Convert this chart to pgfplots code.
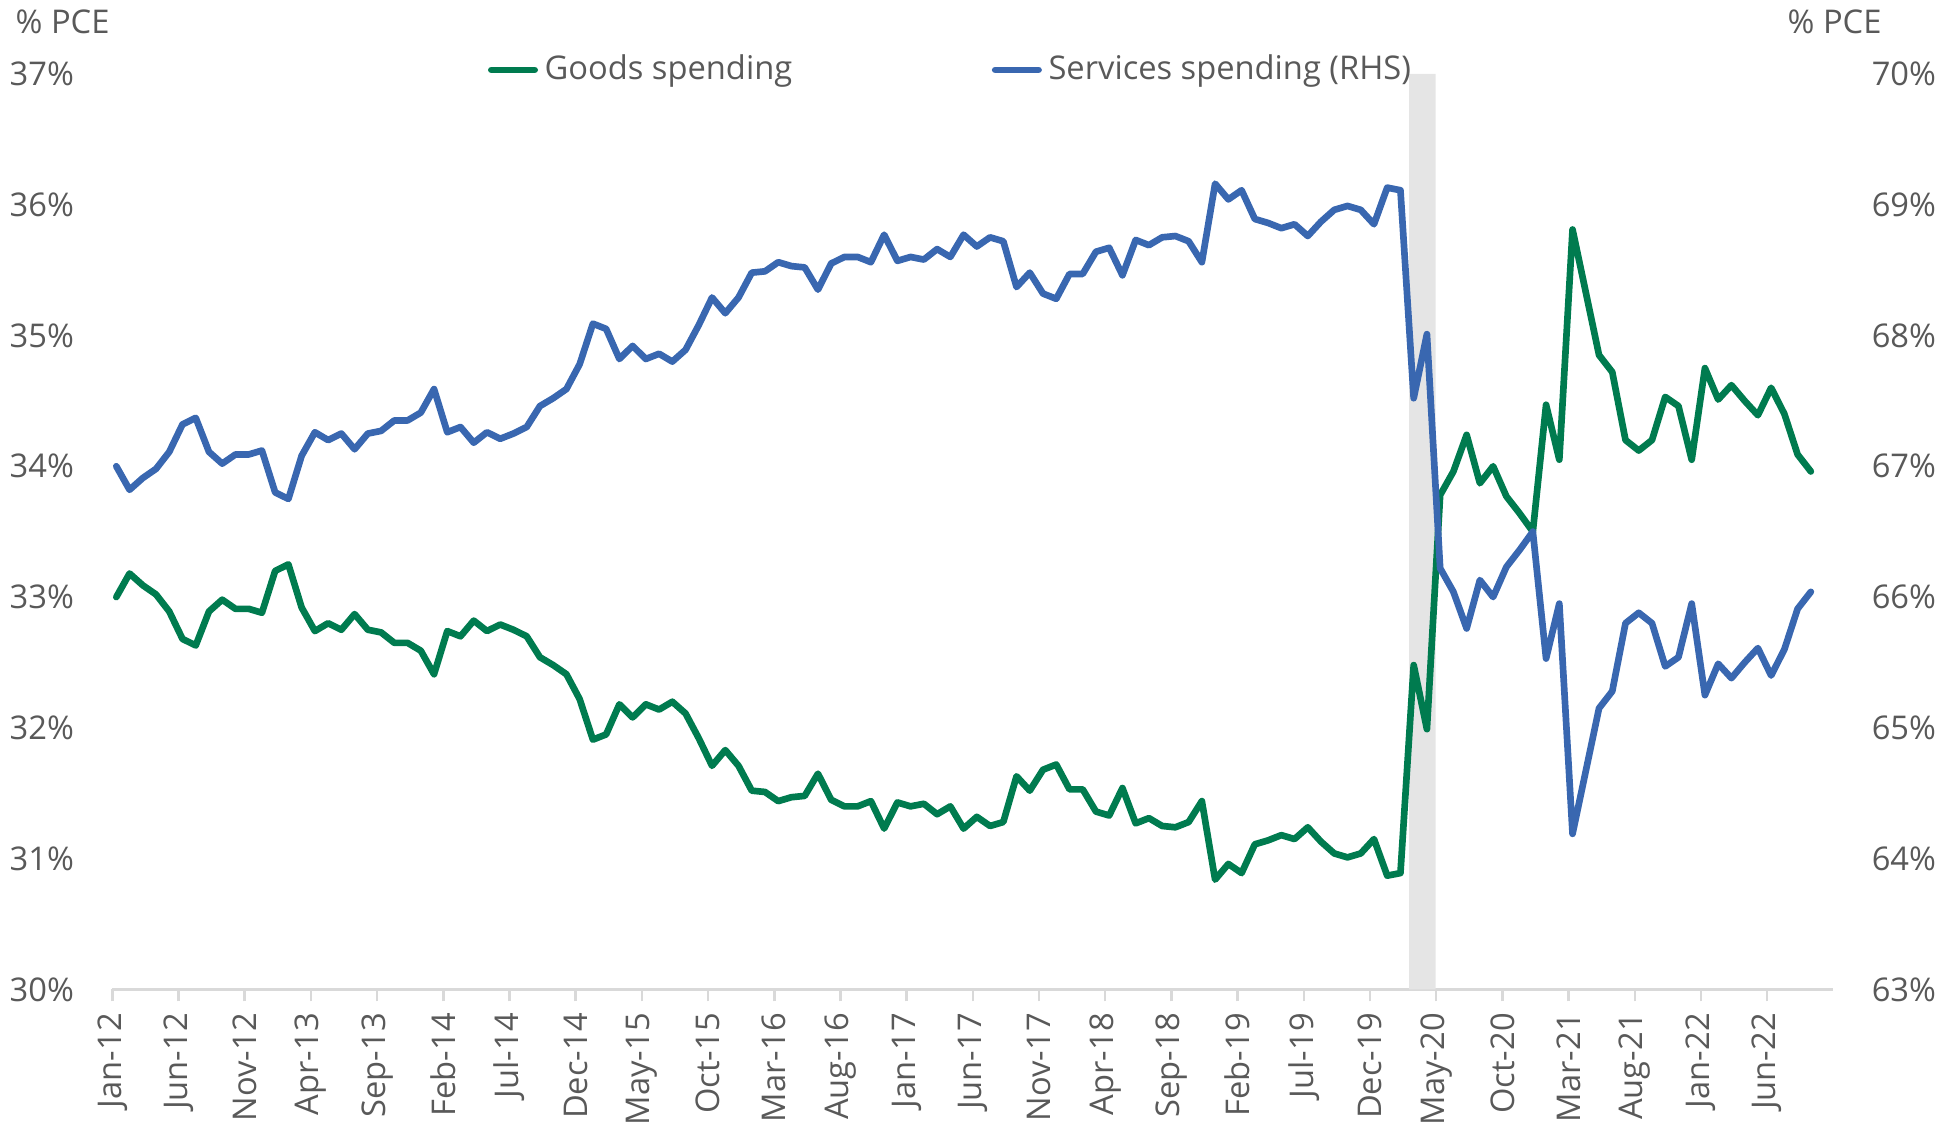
\documentclass[border=0pt]{standalone}
\usepackage{pgfplots}
\pgfplotsset{compat=1.18}
\usepackage{pgfplotstable}
\usepackage{fontspec}
\setmainfont{Open Sans}
\definecolor{goodsc}{HTML}{007B4F}
\definecolor{servc}{HTML}{3967B0}
\definecolor{txt}{HTML}{595959}
\definecolor{axgray}{HTML}{D9D9D9}
\definecolor{bandc}{HTML}{E5E5E5}

\pgfplotstableread{
i g s
0 33.00 67.00
1 33.18 66.82
2 33.09 66.91
3 33.02 66.98
4 32.89 67.11
5 32.68 67.32
6 32.63 67.37
7 32.89 67.11
8 32.98 67.02
9 32.91 67.09
10 32.91 67.09
11 32.88 67.12
12 33.20 66.80
13 33.25 66.75
14 32.92 67.08
15 32.74 67.26
16 32.80 67.20
17 32.75 67.25
18 32.87 67.13
19 32.75 67.25
20 32.73 67.27
21 32.65 67.35
22 32.65 67.35
23 32.59 67.41
24 32.41 67.59
25 32.74 67.26
26 32.70 67.30
27 32.82 67.18
28 32.74 67.26
29 32.79 67.21
30 32.75 67.25
31 32.70 67.30
32 32.54 67.46
33 32.48 67.52
34 32.41 67.59
35 32.22 67.78
36 31.91 68.09
37 31.95 68.05
38 32.18 67.82
39 32.08 67.92
40 32.18 67.82
41 32.14 67.86
42 32.20 67.80
43 32.11 67.89
44 31.92 68.08
45 31.71 68.29
46 31.83 68.17
47 31.71 68.29
48 31.52 68.48
49 31.51 68.49
50 31.44 68.56
51 31.47 68.53
52 31.48 68.52
53 31.65 68.35
54 31.45 68.55
55 31.40 68.60
56 31.40 68.60
57 31.44 68.56
58 31.23 68.77
59 31.43 68.57
60 31.40 68.60
61 31.42 68.58
62 31.34 68.66
63 31.40 68.60
64 31.23 68.77
65 31.32 68.68
66 31.25 68.75
67 31.28 68.72
68 31.63 68.37
69 31.52 68.48
70 31.68 68.32
71 31.72 68.28
72 31.53 68.47
73 31.53 68.47
74 31.36 68.64
75 31.33 68.67
76 31.54 68.46
77 31.27 68.73
78 31.31 68.69
79 31.25 68.75
80 31.24 68.76
81 31.28 68.72
82 31.44 68.56
83 30.84 69.16
84 30.96 69.04
85 30.89 69.11
86 31.11 68.89
87 31.14 68.86
88 31.18 68.82
89 31.15 68.85
90 31.24 68.76
91 31.13 68.87
92 31.04 68.96
93 31.01 68.99
94 31.04 68.96
95 31.15 68.85
96 30.87 69.13
97 30.89 69.11
98 32.48 67.52
99 31.99 68.01
100 33.78 66.22
101 33.96 66.04
102 34.24 65.76
103 33.87 66.13
104 34.00 66.00
105 33.77 66.23
106 33.64 66.36
107 33.50 66.50
108 34.47 65.53
109 34.05 65.95
110 35.81 64.19
111 35.33 64.67
112 34.85 65.15
113 34.72 65.28
114 34.20 65.80
115 34.12 65.88
116 34.20 65.80
117 34.53 65.47
118 34.46 65.54
119 34.05 65.95
120 34.75 65.25
121 34.51 65.49
122 34.62 65.38
123 34.50 65.50
124 34.39 65.61
125 34.60 65.40
126 34.40 65.60
127 34.09 65.91
128 33.96 66.04
}\pcedata

\newcommand{\lblfont}{\fontsize{9.8}{11.5}\selectfont}

\pgfplotsset{
  common/.style={
    scale only axis,
    width=516.3pt, height=274.7pt,
    at={(33.7pt,42.15pt)}, anchor=south west,
    xmin=-0.3, xmax=129.7,
    xtick={-0.3,4.7,9.7,14.7,19.7,24.7,29.7,34.7,39.7,44.7,49.7,54.7,59.7,64.7,69.7,74.7,79.7,84.7,89.7,94.7,99.7,104.7,109.7,114.7,119.7,124.7},
    tick label style={font=\lblfont, text=txt},
    tick align=outside,
    major tick length=3.6pt,
    ytick style={draw=none},
    y axis line style={draw=none},
    clip=false,
  }
}

\begin{document}
\begin{tikzpicture}
\path[use as bounding box] (0,0) rectangle (587.7pt,339pt);

\begin{axis}[common,
  ymin=30, ymax=37,
  ytick={30,31,32,33,34,35,36,37},
  yticklabels={30\%,31\%,32\%,33\%,34\%,35\%,36\%,37\%},
  axis x line*=bottom, axis y line*=left,
  x axis line style={draw=axgray, line width=0.75pt},
  xtick style={draw=axgray, line width=0.75pt},
  xticklabels={Jan-12,Jun-12,Nov-12,Apr-13,Sep-13,Feb-14,Jul-14,Dec-14,May-15,Oct-15,Mar-16,Aug-16,Jan-17,Jun-17,Nov-17,Apr-18,Sep-18,Feb-19,Jul-19,Dec-19,May-20,Oct-20,Mar-21,Aug-21,Jan-22,Jun-22},
  xticklabel style={rotate=90, anchor=east},
  yticklabel style={xshift=-4.4pt},
]
\addplot[fill=bandc, draw=none] coordinates {(97.65,30) (99.65,30) (99.65,37) (97.65,37) (97.65,30)};
\addplot[goodsc, line width=2pt, line join=round, line cap=round] table[x=i, y=g]{\pcedata};
\end{axis}

\begin{axis}[common,
  ymin=63, ymax=70,
  ytick={63,64,65,66,67,68,69,70},
  yticklabels={63\%,64\%,65\%,66\%,67\%,68\%,69\%,70\%},
  axis x line=none, axis y line*=right,
  yticklabel style={xshift=4.4pt},
  legend columns=2,
  legend style={draw=none, fill=none, font=\lblfont, text=txt,
    at={(0.2179,1.0043)}, anchor=west, inner sep=0pt,
    /tikz/every even column/.append style={column sep=57.9pt}},
  legend cell align=left,
  legend image code/.code={\draw[#1, line cap=round] (0pt,0pt) -- (13pt,0pt);},
]
\addlegendimage{goodsc, line width=2pt}
\addlegendentry{Goods spending}
\addplot[servc, line width=2pt, line join=round, line cap=round] table[x=i, y=s]{\pcedata};
\addlegendentry{Services spending (RHS)}
\end{axis}

\node[anchor=west, font=\lblfont, text=txt, inner sep=0pt] at (4.5pt,332.3pt) {\% PCE};
\node[anchor=west, font=\lblfont, text=txt, inner sep=0pt] at (536.1pt,332.3pt) {\% PCE};
\end{tikzpicture}
\end{document}
